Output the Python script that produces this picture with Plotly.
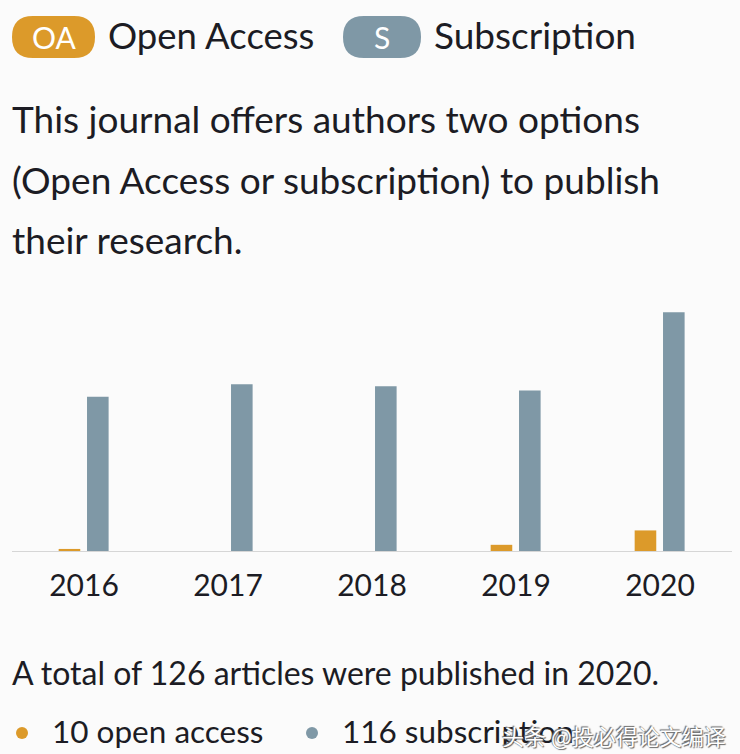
import plotly.graph_objects as go

years = ["2016", "2017", "2018", "2019", "2020"]
open_access = [1, 0, 0, 3, 10]
subscription = [75, 81, 80, 78, 116]

OA_COLOR = "#DC9A2A"
S_COLOR = "#7F98A6"
TEXT = "#1c1c24"
FONT = "Lato"

W, H = 740, 754
L, R, T, B = 12, 8, 304, 203
PW, PH = W - L - R, H - T - B


def px(x):
    return (x - L) / PW


def py(y):
    return (H - B - y) / PH


fig = go.Figure()
fig.add_trace(go.Bar(x=years, y=open_access, name="Open Access",
                     marker=dict(color=OA_COLOR, line=dict(width=0)),
                     width=0.15, offset=-0.176))
fig.add_trace(go.Bar(x=years, y=subscription, name="Subscription",
                     marker=dict(color=S_COLOR, line=dict(width=0)),
                     width=0.15, offset=0.021))

shapes = []


def pill(x0, x1, yc, h, color):
    r = h / 2
    w = x1 - x0
    path = (f"M {r},{r} L {w - r},{r} Q {w},{r} {w},0 Q {w},{-r} {w - r},{-r} "
            f"L {r},{-r} Q 0,{-r} 0,0 Q 0,{r} {r},{r} Z")
    shapes.append(dict(type="path", xref="paper", yref="paper",
                       xsizemode="pixel", ysizemode="pixel",
                       xanchor=px(x0), yanchor=py(yc), path=path,
                       fillcolor=color, line=dict(width=0), layer="above"))


def dot(xc, yc, r, color):
    shapes.append(dict(type="circle", xref="paper", yref="paper",
                       xsizemode="pixel", ysizemode="pixel",
                       xanchor=px(xc), yanchor=py(yc),
                       x0=-r, x1=r, y0=-r, y1=r,
                       fillcolor=color, line=dict(width=0), layer="above"))


pill(12, 95, 37, 42, OA_COLOR)
pill(343, 421, 37, 42, S_COLOR)
dot(22, 733, 6, OA_COLOR)
dot(312, 733, 6, S_COLOR)

annotations = []


def text(s, x, y, size, color=TEXT, xanchor="left", family=FONT, **kw):
    annotations.append(dict(text=s, x=px(x), y=py(y), xref="paper", yref="paper",
                            xanchor=xanchor, yanchor="middle", showarrow=False,
                            font=dict(family=family, size=size, color=color, **kw)))


text("OA", 53.5, 37, 30, color="white", xanchor="center")
text("S", 382, 37, 30, color="white", xanchor="center")
text("Open Access", 106, 35, 36.5)
text("Subscription", 432, 35, 37)
text("This journal offers authors two options", 10, 119, 37)
text("(Open Access or subscription) to publish", 10, 179, 37)
text("their research.", 10, 239, 37)
text("A total of 126 articles were published in 2020.", 10, 672, 32)
text("10 open access", 50, 731, 31.5)
text("116 subscription", 340, 731, 31.5)
text("头条 @投必得论文编译", 728, 735, 22, color="white", xanchor="right",
     family="Noto Sans CJK SC", shadow="1px 1px 1px #666, -1px -1px 1px #666")

fig.update_layout(
    width=W, height=H,
    margin=dict(l=L, r=R, t=T, b=B),
    paper_bgcolor="#FBFBFB", plot_bgcolor="#FBFBFB",
    barmode="overlay", showlegend=False,
    shapes=shapes, annotations=annotations,
    font=dict(family=FONT, color=TEXT),
)
fig.update_xaxes(type="category", range=[-0.5, 4.5], showline=True,
                 linecolor="#D6D6D6", linewidth=1, showgrid=False,
                 ticks="", tickfont=dict(family=FONT, size=30, color=TEXT),
                 ticklabelstandoff=8, fixedrange=True)
fig.update_yaxes(range=[0, 120], visible=False, showgrid=False,
                 zeroline=False, fixedrange=True)

fig.write_html("out.html", config={"displayModeBar": False},
               post_script="document.body.style.margin='0';document.body.style.overflow='hidden';")
